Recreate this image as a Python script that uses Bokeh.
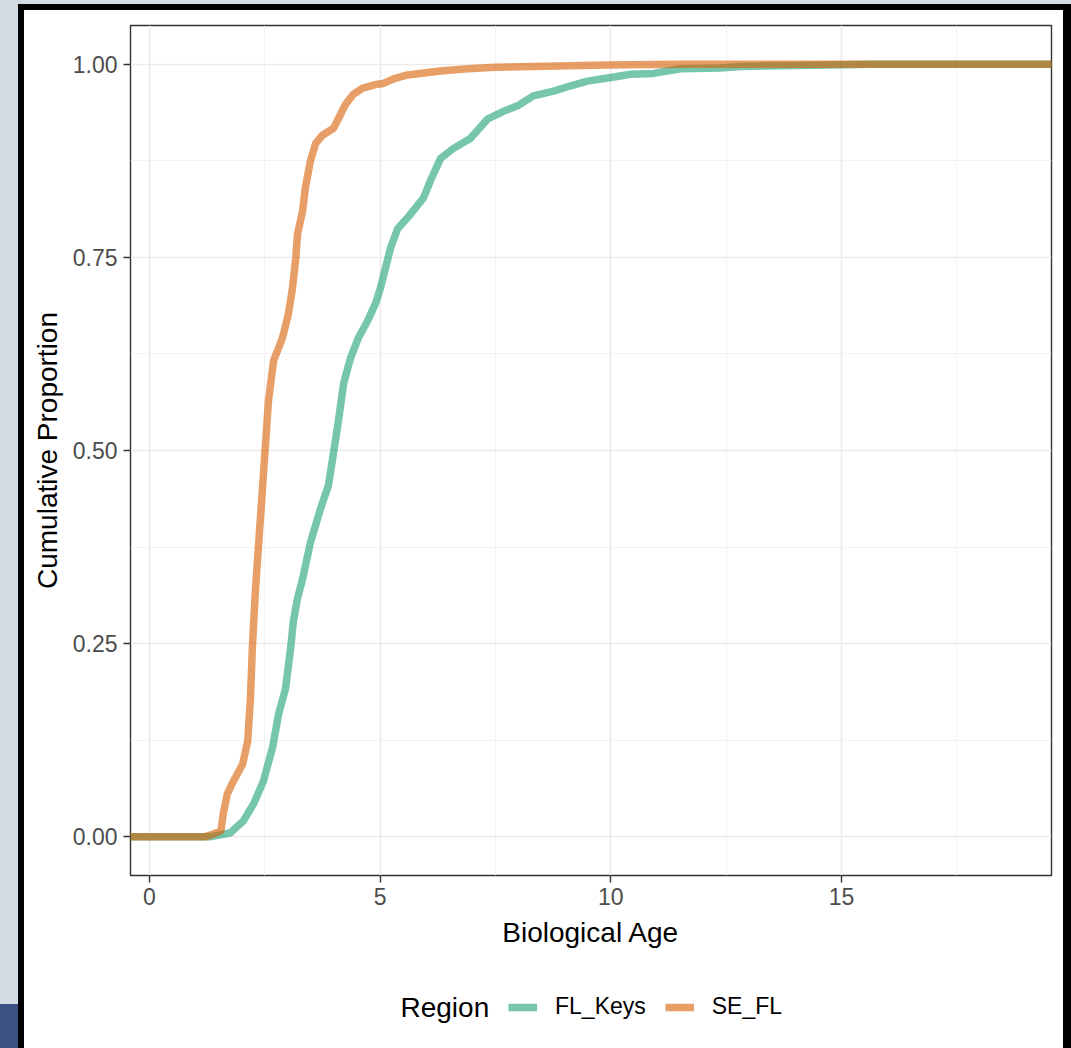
from bokeh.plotting import figure
from bokeh.models import (Range1d, FixedTicker, Legend, LegendItem, Label, Div,
                          NumeralTickFormatter)
from bokeh.layouts import row, column
from bokeh.embed import file_html
from bokeh.resources import INLINE

# ---------------- data ----------------
regions = ["FL_Keys", "SE_FL"]
region_colors = ["#1b9e77", "#d95f02"]

fl_keys_age = [-1.0, 1.30, 1.75, 2.04, 2.26, 2.47, 2.67, 2.80, 2.95, 3.06, 3.12,
               3.21, 3.32, 3.49, 3.71, 3.88, 3.99, 4.10, 4.21, 4.36, 4.53, 4.73,
               4.90, 5.01, 5.12, 5.23, 5.38, 5.62, 5.94, 6.09, 6.31, 6.59, 6.96,
               7.33, 7.67, 7.98, 8.32, 8.76, 9.13, 9.49, 9.93, 10.43, 10.93,
               11.51, 12.38, 12.81, 14.70, 15.69, 25.0]
fl_keys_prop = [0.0, 0.0, 0.005, 0.021, 0.043, 0.072, 0.116, 0.159, 0.192, 0.244,
                0.279, 0.309, 0.334, 0.381, 0.425, 0.455, 0.497, 0.540, 0.587,
                0.620, 0.646, 0.668, 0.690, 0.711, 0.737, 0.763, 0.787, 0.803,
                0.827, 0.849, 0.878, 0.891, 0.904, 0.929, 0.939, 0.946, 0.959,
                0.965, 0.972, 0.978, 0.982, 0.987, 0.988, 0.994, 0.995, 0.997,
                0.999, 1.0, 1.0]

se_fl_age = [-1.0, 1.20, 1.40, 1.55, 1.60, 1.69, 1.82, 2.02, 2.13, 2.19, 2.23,
             2.30, 2.36, 2.45, 2.51, 2.58, 2.62, 2.69, 2.88, 3.01, 3.10, 3.17,
             3.21, 3.32, 3.38, 3.49, 3.60, 3.75, 3.99, 4.10, 4.25, 4.42, 4.62,
             4.94, 5.07, 5.29, 5.59, 5.87, 6.30, 6.90, 7.50, 9.90, 11.50, 25.0]
se_fl_prop = [0.0, 0.0, 0.004, 0.008, 0.030, 0.056, 0.072, 0.094, 0.124, 0.179,
              0.244, 0.322, 0.373, 0.451, 0.503, 0.564, 0.583, 0.616, 0.645,
              0.676, 0.710, 0.748, 0.780, 0.810, 0.840, 0.875, 0.897, 0.908,
              0.917, 0.930, 0.948, 0.961, 0.969, 0.974, 0.975, 0.981, 0.986,
              0.988, 0.991, 0.994, 0.996, 0.999, 1.0, 1.0]

x_ticks = [0, 5, 10, 15]
x_minor_ticks = [2.5, 7.5, 12.5, 17.5]
y_ticks = [0.0, 0.25, 0.5, 0.75, 1.0]
y_minor_ticks = [0.125, 0.375, 0.625, 0.875]

x_title = "Biological Age"
y_title = "Cumulative Proportion"
legend_title = "Region"

FONT = "Liberation Sans"
LINE_W = 7.5
LINE_A = 0.6

# ---------------- main figure ----------------
p = figure(width=1039, height=955, output_backend="svg", toolbar_location=None,
           x_range=Range1d(-0.41, 19.55), y_range=Range1d(-0.05, 1.05),
           min_border_left=106, min_border_right=12, min_border_top=15,
           min_border_bottom=90,
           background_fill_color="white", border_fill_color="white",
           outline_line_color="#333333", outline_line_width=1.4)

p.xaxis.ticker = FixedTicker(ticks=x_ticks, minor_ticks=x_minor_ticks)
p.yaxis.ticker = FixedTicker(ticks=y_ticks, minor_ticks=y_minor_ticks)
p.yaxis.formatter = NumeralTickFormatter(format="0.00")

for ax in (p.xaxis[0], p.yaxis[0]):
    ax.axis_line_color = None
    ax.major_tick_line_color = "#333333"
    ax.major_tick_line_width = 1.4
    ax.major_tick_out = 7
    ax.major_tick_in = 0
    ax.minor_tick_line_color = None
    ax.major_label_text_font = FONT
    ax.major_label_text_font_size = "23px"
    ax.major_label_text_color = "#4d4d4d"
    ax.axis_label_text_font = FONT
    ax.axis_label_text_font_size = "28px"
    ax.axis_label_text_font_style = "normal"
    ax.axis_label_text_color = "black"

p.xaxis.axis_label = x_title
p.yaxis.axis_label = y_title
p.xaxis.major_label_standoff = 5
p.yaxis.major_label_standoff = 6
p.xaxis.axis_label_standoff = 9
p.yaxis.axis_label_standoff = 7

for g in (p.xgrid[0], p.ygrid[0]):
    g.grid_line_color = "#ebebeb"
    g.grid_line_width = 1.7
    g.minor_grid_line_color = "#f0f0f0"
    g.minor_grid_line_width = 0.9

p.line(fl_keys_age, fl_keys_prop, line_color=region_colors[0],
       line_alpha=LINE_A, line_width=LINE_W, line_join="round")
p.line(se_fl_age, se_fl_prop, line_color=region_colors[1],
       line_alpha=LINE_A, line_width=LINE_W, line_join="round")

# ---------------- legend strip (below the plot) ----------------
# its frame is aligned with the main plot frame by the column layout
lf = figure(width=1039, height=83, output_backend="svg", toolbar_location=None,
            x_range=Range1d(0, 1), y_range=Range1d(0, 1),
            x_axis_type=None, y_axis_type=None,
            min_border_left=106, min_border_right=12,
            min_border_top=0, min_border_bottom=0,
            background_fill_color="white", border_fill_color="white",
            outline_line_color=None)
lf.xgrid.visible = False
lf.ygrid.visible = False

# legend-key renderers: their one point segment lies outside the visible range
key_renderers = [lf.line(x=[-2, -1], y=[-2, -2], line_color=c, line_alpha=LINE_A,
                         line_width=LINE_W) for c in region_colors]

legend = Legend(items=[LegendItem(label=lab, renderers=[r])
                       for lab, r in zip(regions, key_renderers)],
                orientation="horizontal", location=(378, 28),
                padding=0, margin=0, spacing=19, label_standoff=18,
                glyph_width=29, glyph_height=26, label_height=26,
                label_text_font=FONT, label_text_font_size="23px",
                label_text_color="black",
                border_line_color=None, background_fill_alpha=0)
lf.add_layout(legend)

lf.add_layout(Label(x=270, y=41, x_units="screen", y_units="screen",
                    text=legend_title, text_font=FONT, text_font_size="28px",
                    text_color="black", text_baseline="middle"))

# ---------------- screenshot frame ----------------
def band(w, h, bg):
    return Div(text="", width=w, height=h, margin=0, styles={"background": bg})

gray_left = band(18, 1048, "linear-gradient(to bottom, #d3dbe3 0px, #d3dbe3 1004px, #3b5182 1004px)")
gray_top = band(1053, 4, "#d3dbe3")
black_top = band(1053, 6, "black")
black_left = band(6, 1038, "black")
black_right = band(8, 1038, "black")

layout = row(gray_left,
             column(gray_top, black_top,
                    row(black_left, column(p, lf), black_right)))

open("out.html", "w").write(file_html(layout, INLINE))
